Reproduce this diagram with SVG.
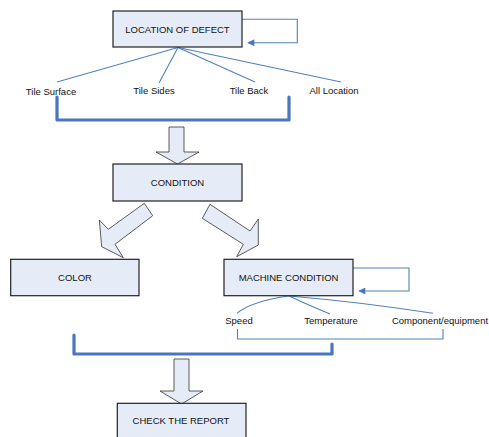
<svg xmlns="http://www.w3.org/2000/svg" width="489" height="437" viewBox="0 0 489 437">
<defs>
<style>
.box{fill:#E6ECF7;stroke:#222;stroke-width:1.2}
.barrow{fill:#E6ECF7;stroke:#333;stroke-width:0.8;stroke-linejoin:miter}
.t{font-family:"Liberation Sans",Arial,sans-serif;font-size:9.5px;fill:#111;text-anchor:middle}
.thin{fill:none;stroke:#4F81BD;stroke-width:1.1}
.thick{fill:none;stroke:#4A76C0;stroke-width:3.2;stroke-linejoin:round;stroke-linecap:round}
</style>
<marker id="ah" viewBox="0 0 10 10" refX="9" refY="5" markerWidth="9" markerHeight="7" markerUnits="userSpaceOnUse" orient="auto">
<path d="M0,0 L10,5 L0,10 Z" fill="#4A76C0"/>
</marker>
</defs>
<rect width="489" height="437" fill="#fff"/>
<g id="connectors">
<path class="thin" d="M242,19.3 H297.3 V42.7 H248" marker-end="url(#ah)"/>
<line class="thin" x1="178" y1="47.5" x2="57" y2="82"/>
<line class="thin" x1="178" y1="47.5" x2="159" y2="83"/>
<line class="thin" x1="178" y1="47.5" x2="255" y2="82"/>
<line class="thin" x1="178" y1="47.5" x2="341" y2="82"/>
<path class="thick" d="M57,97 V120 H289 V97"/>
<polygon class="barrow" points="169,127 184,127 184,152 199,152 177.5,164 156,152 169,152"/>
<polygon class="barrow" points="144.3,203.3 108.3,229.3 99.3,220 101.7,246.7 123.3,257.7 115,244.3 152.7,215.7"/>
<polygon class="barrow" points="210,204.3 250,231 258.3,219 258.3,245 236.7,256.7 243.3,244.3 202.3,218.3"/>
<path class="thin" d="M353,268 H409 V291 H359" marker-end="url(#ah)"/>
<path class="thin" d="M289,296 Q252,301 237,313.3"/>
<path class="thin" d="M289,296 Q296,299 302,302 Q318,309 330,314"/>
<path class="thin" d="M289,296 Q360,302 433,313.3"/>
<path class="thin" d="M237.5,329 V339 H443 V329"/>
<path class="thick" d="M74,335 V354 H332 V344"/>
<polygon class="barrow" points="174,359 189,359 189,391 203,391 181.5,404 160,391 174,391"/>
</g>
<g id="location">
<rect class="box" x="113" y="11" width="129" height="36"/>
<text class="t" x="177.5" y="32.5">LOCATION OF DEFECT</text>
</g>
<g id="tile-surface"><text class="t" x="51" y="94.5">Tile Surface</text></g>
<g id="tile-sides"><text class="t" x="154" y="93.5">Tile Sides</text></g>
<g id="tile-back"><text class="t" x="249" y="93.5">Tile Back</text></g>
<g id="all-location"><text class="t" x="334" y="93.5">All Location</text></g>
<g id="condition">
<rect class="box" x="113" y="164" width="129" height="37"/>
<text class="t" x="177.5" y="185.5">CONDITION</text>
</g>
<g id="color">
<rect class="box" x="10.7" y="259.3" width="128.3" height="36.4"/>
<text class="t" x="75" y="281">COLOR</text>
</g>
<g id="machine">
<rect class="box" x="224" y="259.3" width="129" height="36.4"/>
<text class="t" x="288.5" y="281">MACHINE CONDITION</text>
</g>
<g id="speed"><text class="t" x="239" y="324">Speed</text></g>
<g id="temperature"><text class="t" x="331" y="324">Temperature</text></g>
<g id="component"><text class="t" x="440" y="324">Component/equipment</text></g>
<g id="check">
<rect class="box" x="117.3" y="403.3" width="128.7" height="40"/>
<text class="t" x="181" y="424">CHECK THE REPORT</text>
</g>
</svg>
